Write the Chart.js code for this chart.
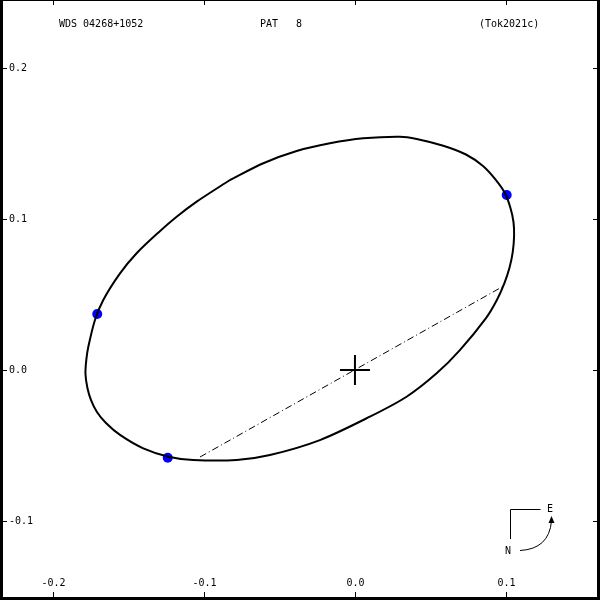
<!DOCTYPE html>
<html>
<head>
<meta charset="utf-8">
<script src="https://cdn.jsdelivr.net/npm/chart.js@4/dist/chart.umd.min.js"></script>
<style>
  html, body { margin: 0; padding: 0; background: #fff; }
  #wrap { width: 600px; height: 600px; position: relative; }
</style>
</head>
<body>
<div id="wrap"><canvas id="orbit"></canvas></div>
<script>
// orbit trace (x, y in arcsec)
const orbitX = [-0.0828, -0.0607, -0.0386, -0.0166, 0.0055, 0.0298, 0.0409, 0.0585, 0.0735, 0.0848,
  0.0934, 0.0993, 0.1030, 0.1050, 0.1054, 0.1045, 0.1023, 0.0990, 0.0940, 0.0868,
  0.0695, 0.0541, 0.0342, 0.0099, -0.0232, -0.0563, -0.0783, -0.1071, -0.1236, -0.1402,
  -0.1556, -0.1649, -0.1709, -0.1748, -0.1772, -0.1785, -0.1779, -0.1766, -0.1722, -0.1667,
  -0.1556, -0.1446, -0.1301, -0.1181, -0.1048, -0.0828]
const orbitY = [0.1258, 0.1369, 0.1450, 0.1501, 0.1534, 0.1545, 0.1530, 0.1485, 0.1427, 0.1351,
  0.1258, 0.1172, 0.1073, 0.0980, 0.0887, 0.0781, 0.0675, 0.0576, 0.0464, 0.0344,
  0.0132, -0.0022, -0.0177, -0.0309, -0.0464, -0.0563, -0.0596, -0.0596, -0.0574, -0.0519,
  -0.0430, -0.0351, -0.0278, -0.0199, -0.0119, -0.0025, 0.0070, 0.0154, 0.0331, 0.0464,
  0.0640, 0.0773, 0.0911, 0.1015, 0.1115, 0.1258]

// observations
const obsX = [-0.1707, -0.1240, 0.1005]
const obsY = [0.0371, -0.0581, 0.1159]

// line of nodes
const nodesX = [-0.1026, 0.0974]
const nodesY = [-0.0576, 0.0550]

const xTicks = [-0.2, -0.1, 0.0, 0.1]
const yTicks = [0.2, 0.1, 0.0, -0.1]
const xRange = [-0.2351, 0.1623]
const yRange = [-0.1523, 0.2450]

const titleLeft = 'WDS 04268+1052'
const titleMid = 'PAT   8'
const titleRight = '(Tok2021c)'

const toPts = (xs, ys) => xs.map((x, i) => ({ x: x, y: ys[i] }))
const FONT = '10px "DejaVu Sans Mono", monospace'

const framePlugin = {
  id: 'frame',
  afterDraw(chart) {
    const ctx = chart.ctx
    const sx = chart.scales.x
    const sy = chart.scales.y
    const W = chart.width
    const H = chart.height
    ctx.save()
    ctx.fillStyle = '#000'
    // frame
    ctx.fillRect(0, 0, 3, H)
    ctx.fillRect(W - 3, 0, 3, H)
    ctx.fillRect(0, H - 3, W, 3)
    ctx.fillRect(0, 0, W, 1)
    // ticks and labels
    ctx.font = FONT
    ctx.strokeStyle = '#000'
    ctx.lineWidth = 1
    ctx.textBaseline = 'middle'
    xTicks.forEach((v) => {
      const px = Math.round(sx.getPixelForValue(v)) + 0.5
      ctx.beginPath()
      ctx.moveTo(px, 0); ctx.lineTo(px, 5)
      ctx.moveTo(px, H - 3); ctx.lineTo(px, H - 8)
      ctx.stroke()
      ctx.textAlign = 'center'
      ctx.fillText(v.toFixed(1), px, H - 17)
    })
    yTicks.forEach((v) => {
      const py = Math.round(sy.getPixelForValue(v)) + 0.5
      ctx.beginPath()
      ctx.moveTo(3, py); ctx.lineTo(7, py)
      ctx.moveTo(W - 3, py); ctx.lineTo(W - 7, py)
      ctx.stroke()
      ctx.textAlign = 'left'
      ctx.fillText(v.toFixed(1), 9, py)
    })
    // header
    ctx.textAlign = 'left'
    ctx.fillText(titleLeft, 59, 24)
    ctx.fillText(titleMid, 260, 24)
    ctx.fillText(titleRight, 479, 24)
    // compass
    ctx.beginPath()
    ctx.moveTo(540.5, 509.5); ctx.lineTo(510.5, 509.5); ctx.lineTo(510.5, 539)
    ctx.stroke()
    ctx.fillText('E', 547, 509)
    ctx.fillText('N', 505, 551)
    ctx.beginPath()
    ctx.moveTo(520, 550.5)
    ctx.quadraticCurveTo(549, 549, 551.5, 521)
    ctx.stroke()
    ctx.beginPath()
    ctx.moveTo(551.5, 516); ctx.lineTo(548.5, 523); ctx.lineTo(554.5, 523)
    ctx.closePath(); ctx.fill()
    ctx.restore()
  }
}

new Chart(document.getElementById('orbit'), {
  type: 'scatter',
  data: {
    datasets: [
      {
        data: toPts(nodesX, nodesY),
        showLine: true,
        borderColor: '#000',
        borderWidth: 1,
        borderDash: [7, 3, 1, 3],
        pointRadius: 0,
      },
      {
        data: toPts(orbitX, orbitY),
        showLine: true,
        borderColor: '#000',
        borderWidth: 2,
        tension: 0.3,
        pointRadius: 0,
      },
      {
        data: [{ x: 0, y: 0 }],
        pointStyle: 'cross',
        pointRadius: 15,
        borderColor: '#000',
        borderWidth: 2,
      },
      {
        data: toPts(obsX, obsY),
        pointRadius: 5,
        backgroundColor: '#0000ff',
        borderColor: '#0000ff',
        borderWidth: 0,
      },
    ],
  },
  options: {
    responsive: true,
    maintainAspectRatio: false,
    animation: false,
    layout: { padding: 0, autoPadding: false },
    plugins: { legend: { display: false }, tooltip: { enabled: false } },
    scales: {
      x: { type: 'linear', display: false, min: xRange[0], max: xRange[1] },
      y: { type: 'linear', display: false, min: yRange[0], max: yRange[1] },
    },
  },
  plugins: [framePlugin],
})
</script>
</body>
</html>
